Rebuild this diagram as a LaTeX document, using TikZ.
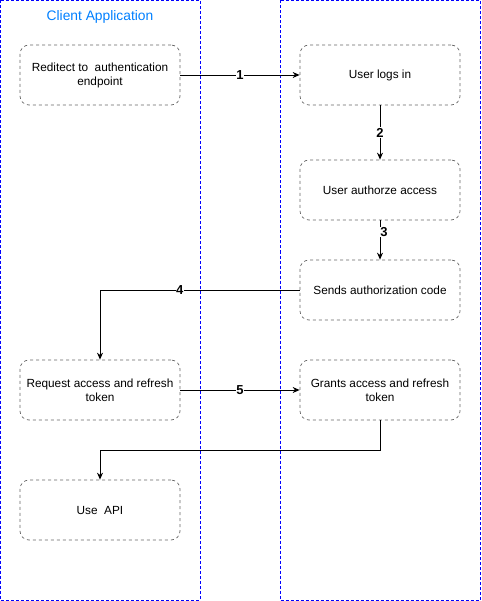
\documentclass[tikz,border=0pt]{standalone}
\usepackage{fontspec}
\setmainfont{Liberation Sans}
\usetikzlibrary{arrows.meta}
\definecolor{lanecol}{RGB}{0,0,255}
\definecolor{titlecol}{RGB}{0,127,255}
\definecolor{boxcol}{RGB}{102,102,102}
\begin{document}
\begin{tikzpicture}[x=1pt,y=-1pt,
  lane/.style={draw=lanecol, dash pattern=on 3pt off 2pt, line width=0.8pt},
  stepbox/.style={draw=boxcol, dash pattern=on 3pt off 3pt, rounded corners=9pt, line width=0.7pt,
    minimum width=160pt, minimum height=60pt, align=flush center, text width=156pt, inner sep=2pt,
    font=\fontsize{11.8}{14}\selectfont},
  conn/.style={draw=black, line width=0.9pt, -{Stealth[length=7pt,width=6pt]}},
  num/.style={font=\fontsize{13}{15}\selectfont\bfseries, fill=white, inner sep=0.5pt}
]
\useasboundingbox (0,0) rectangle (481,601);
\draw[lane] (0.5,0.5) rectangle (200,600);
\draw[lane] (280,0.5) rectangle (480,600);
\node[text=titlecol, font=\fontsize{13.8}{16}\selectfont] (title) at (100,17) {Client Application};

\node[stepbox] (redir) at (100,75) {Reditect to\ \ authentication\\endpoint};
\node[stepbox] (login) at (380,75) {User logs in};
\node[stepbox] (authz) at (380,190) {User authorze access};
\node[stepbox] (code) at (380,290) {Sends authorization code};
\node[stepbox] (req) at (100,390) {Request access and refresh\\token};
\node[stepbox] (grant) at (380,390) {Grants access and refresh\\token};
\node[stepbox] (api) at (100,510) {Use\ \ API};

\draw[conn] (redir.east) -- node[num] {1} (login.west);
\draw[conn] (login.south) -- node[num, pos=0.5] {2} (authz.north);
\draw[conn] (authz.south) -- node[num, pos=0.3, xshift=4pt] {3} (code.north);
\draw[conn] (code.west) -- node[num, pos=0.6] {4} (100,290) -- (req.north);
\draw[conn] (req.east) -- node[num] {5} (grant.west);
\draw[conn] (grant.south) -- (380,450) -- (100,450) -- (api.north);
\end{tikzpicture}
\end{document}
